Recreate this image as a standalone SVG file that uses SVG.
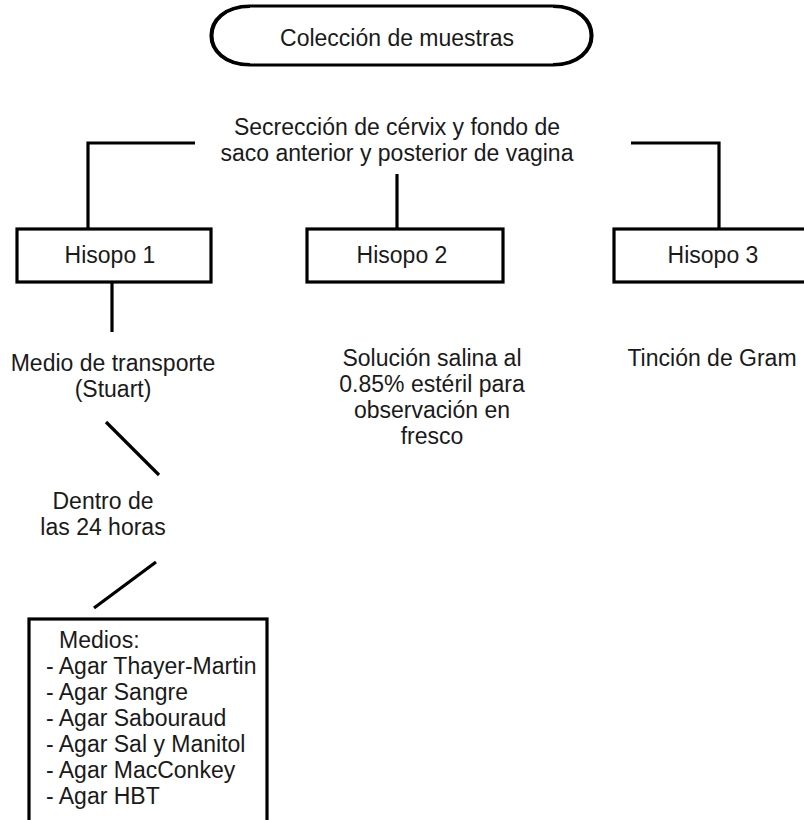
<svg xmlns="http://www.w3.org/2000/svg" width="804" height="820" viewBox="0 0 804 820">
  <style>
    .box { fill: #ffffff; stroke: #000000; stroke-width: 3.2; }
    .wire { fill: none; stroke: #000000; stroke-width: 3.2; stroke-linecap: butt; }
    .lbl { font-family: "Liberation Sans", Arial, sans-serif; font-size: 23px; fill: #1a1a1a; }
    .mid { text-anchor: middle; }
  </style>
  <rect x="0" y="0" width="804" height="820" fill="#ffffff"/>

  <!-- connectors -->
  <g id="connectors" class="wire">
    <polyline points="195,143 88,143 88,229"/>
    <line x1="397" y1="174" x2="397" y2="229"/>
    <polyline points="631,143 719,143 719,229"/>
    <line x1="112" y1="282" x2="112" y2="332"/>
    <line x1="106" y1="422" x2="159" y2="475"/>
    <line x1="156" y1="562" x2="94" y2="608"/>
  </g>

  <!-- start terminator -->
  <g id="start">
    <path class="box" d="M250,6 L553,6 C605,6 605,65 553,65 L250,65 C198,65 198,6 250,6 Z"/>
    <path fill="none" stroke="#000" stroke-width="2" d="M553,7 C603,7 603,64 553,64 M250,64 C200,64 200,7 250,7"/>
    <text class="lbl mid" x="397" y="46">Colección de muestras</text>
  </g>

  <!-- sample source -->
  <g id="source">
    <text class="lbl mid" x="397" y="135">Secrección de cérvix y fondo de</text>
    <text class="lbl mid" x="397" y="161">saco anterior y posterior de vagina</text>
  </g>

  <g id="hisopo1">
    <rect class="box" x="17" y="229" width="194" height="53"/>
    <text class="lbl mid" x="110" y="263">Hisopo 1</text>
  </g>
  <g id="hisopo2">
    <rect class="box" x="307" y="229" width="196" height="53"/>
    <text class="lbl mid" x="402" y="263">Hisopo 2</text>
  </g>
  <g id="hisopo3">
    <rect class="box" x="614" y="229" width="200" height="53"/>
    <text class="lbl mid" x="713" y="263">Hisopo 3</text>
  </g>

  <g id="transporte">
    <text class="lbl mid" x="113" y="371">Medio de transporte</text>
    <text class="lbl mid" x="113" y="397">(Stuart)</text>
  </g>

  <g id="salina">
    <text class="lbl mid" x="432" y="366">Solución salina al</text>
    <text class="lbl mid" x="432" y="392">0.85% estéril para</text>
    <text class="lbl mid" x="432" y="418">observación en</text>
    <text class="lbl mid" x="432" y="444">fresco</text>
  </g>

  <g id="gram">
    <text class="lbl mid" x="712" y="366">Tinción de Gram</text>
  </g>

  <g id="plazo">
    <text class="lbl mid" x="103" y="509">Dentro de</text>
    <text class="lbl mid" x="103" y="535">las 24 horas</text>
  </g>

  <g id="medios">
    <rect class="box" x="29" y="619" width="238" height="220"/>
    <text class="lbl" x="59" y="648">Medios:</text>
    <text class="lbl" x="46" y="674">- Agar Thayer-Martin</text>
    <text class="lbl" x="46" y="700">- Agar Sangre</text>
    <text class="lbl" x="46" y="726">- Agar Sabouraud</text>
    <text class="lbl" x="46" y="752">- Agar Sal y Manitol</text>
    <text class="lbl" x="46" y="778">- Agar MacConkey</text>
    <text class="lbl" x="46" y="804">- Agar HBT</text>
  </g>
</svg>
